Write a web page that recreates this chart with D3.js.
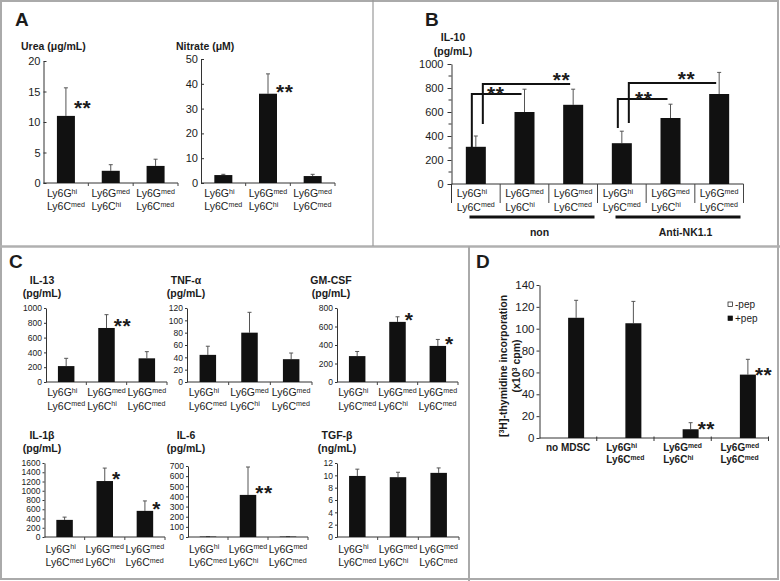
<!DOCTYPE html>
<html>
<head>
<meta charset="utf-8">
<script src="https://cdn.jsdelivr.net/npm/d3@7"></script>
<style>
body { margin: 0; background: #fff; }
svg { display: block; }
</style>
</head>
<body>
<svg id="fig" width="780" height="581"></svg>
<script>
// ---------- data ----------
var subsets = [[["Ly6G", "hi"], ["Ly6C", "med"]],
               [["Ly6G", "med"], ["Ly6C", "hi"]],
               [["Ly6G", "med"], ["Ly6C", "med"]]];

var ureaMean = [11, 2, 2.8],        ureaSD = [4.6, 1.0, 1.1],       ureaStars = ["**", "", ""];
var nitrateMean = [3.2, 36, 2.8],   nitrateSD = [0.3, 8, 0.7],      nitrateStars = ["", "**", ""];

var il10Groups = ["non", "Anti-NK1.1"];
var il10Mean = [310, 600, 660, 340, 550, 750];
var il10SD = [90, 190, 130, 100, 115, 180];
// [from bar, to bar, bracket level, drop-to level, star position along bracket]
var il10Brackets = [[0, 1, 750, 308, 0.48], [0, 2, 833, 500, 0.9],
                    [3, 4, 708, 467, 0.52], [3, 5, 842, 508, 0.66]];

var il13Mean = [215, 730, 320],   il13SD = [105, 180, 90],    il13Stars = ["", "**", ""];
var tnfMean = [44, 80, 37],       tnfSD = [14, 33, 10],       tnfStars = ["", "", ""];
var gmcsfMean = [280, 650, 390],  gmcsfSD = [50, 55, 70],     gmcsfStars = ["", "*", "*"];
var il1bMean = [370, 1210, 565],  il1bSD = [60, 280, 215],    il1bStars = ["", "*", "*"];
var il6Mean = [4, 415, 4],        il6SD = [0, 275, 0],        il6Stars = ["", "**", ""];
var tgfbMean = [9.9, 9.7, 10.4],  tgfbSD = [1.1, 0.8, 0.8],   tgfbStars = ["", "", ""];

var dCats = [[["no MDSC", ""]]].concat(subsets);
var dSeries = ["-pep", "+pep"];
var dMinus = [0, 0, 0, 0];
var dPlus = [110, 105, 8, 58];
var dPlusSD = [16, 20, 6, 14];
var dStars = ["", "", "**", "**"];

// ---------- drawing ----------
var svg = d3.select("#fig");
var INK = "#1b1b1b";
var FONT = '"Liberation Sans", Arial, sans-serif';
var NARROW = '"Liberation Sans Narrow", "Arial Narrow", "Liberation Sans", Arial, sans-serif';
var STAR = 21;

function txt(x, y, s, size, weight, anchor) {
    return svg.append("text")
        .attr("x", x).attr("y", y)
        .attr("font-family", FONT)
        .attr("font-size", size)
        .attr("font-weight", weight || "normal")
        .attr("text-anchor", anchor || "start")
        .attr("fill", INK)
        .text(s);
}

function catLabel(g, cx, y, lines, size, weight, gap) {
    var lg = g.append("g");
    lines.forEach(function(ln, j) {
        var t = lg.append("text")
            .attr("x", 0).attr("y", y + j * gap)
            .attr("font-family", FONT)
            .attr("font-size", size)
            .attr("font-weight", weight)
            .attr("fill", INK);
        t.append("tspan").text(ln[0]);
        if (ln[1]) t.append("tspan").attr("dy", -3.5).attr("font-size", "0.68em").text(ln[1]);
    });
    var w = lg.node().getBBox().width;
    lg.attr("transform", "translate(" + (cx - w / 2) + ",0)");
}

function stars(g, x, yc, s, anchor) {
    if (!s) return;
    g.append("text")
        .attr("x", x).attr("y", yc + 0.57 * STAR)
        .attr("text-anchor", anchor || "start")
        .attr("font-family", FONT)
        .attr("font-size", STAR)
        .attr("font-weight", "bold")
        .attr("letter-spacing", 0.5)
        .attr("fill", INK)
        .text(s);
}

function barChart(o) {
    var n = o.mean.length;
    var g = svg.append("g");
    var y = d3.scaleLinear().domain([0, o.max]).range([o.y0, o.y1]);
    var step = (o.x1 - o.x0) / n;
    var pad = 1 - o.barW / step;
    var x = d3.scaleBand().domain(d3.range(n)).range([o.x0, o.x1])
        .paddingInner(pad).paddingOuter(pad / 2);

    // y axis
    var ax = g.append("g")
        .attr("transform", "translate(" + o.x0 + ",0)")
        .call(d3.axisLeft(y).tickValues(o.ticks).tickFormat(d3.format("d"))
            .tickSizeInner(o.tickLen).tickSizeOuter(0).tickPadding(o.tickPad));
    ax.attr("font-family", o.tickFont || NARROW).attr("font-size", o.tickSize);
    ax.select(".domain").attr("stroke", "#333");
    ax.selectAll(".tick line").attr("stroke", "#333");
    ax.selectAll(".tick text").attr("fill", INK);
    if (o.minor) {
        g.selectAll(".minor").data(o.minor).enter().append("line")
            .attr("x1", o.x0 - 3).attr("x2", o.x0)
            .attr("y1", function(d) { return y(d); }).attr("y2", function(d) { return y(d); })
            .attr("stroke", "#333");
    }
    if (o.yExtend) {
        g.append("line").attr("x1", o.x0).attr("x2", o.x0)
            .attr("y1", o.y0).attr("y2", o.y0 + o.yExtend).attr("stroke", "#333");
    }

    // x axis
    g.append("line").attr("x1", o.x0).attr("x2", o.x1)
        .attr("y1", o.y0).attr("y2", o.y0).attr("stroke", "#333");
    g.selectAll(".xt").data(d3.range(1, n + 1)).enter().append("line")
        .attr("x1", function(i) { return o.x0 + i * step; })
        .attr("x2", function(i) { return o.x0 + i * step; })
        .attr("y1", o.y0).attr("y2", o.y0 + (o.xTickLen || 3))
        .attr("stroke", "#444");

    // error bars
    g.selectAll(".err").data(o.mean).enter().append("line")
        .attr("x1", function(d, i) { return x(i) + x.bandwidth() / 2; })
        .attr("x2", function(d, i) { return x(i) + x.bandwidth() / 2; })
        .attr("y1", function(d) { return y(d); })
        .attr("y2", function(d, i) { return y(d + o.sd[i]); })
        .attr("stroke", "#555").attr("stroke-width", 1);
    g.selectAll(".cap").data(o.mean).enter().append("line")
        .attr("x1", function(d, i) { return x(i) + x.bandwidth() / 2 - 2; })
        .attr("x2", function(d, i) { return x(i) + x.bandwidth() / 2 + 2; })
        .attr("y1", function(d, i) { return y(d + o.sd[i]); })
        .attr("y2", function(d, i) { return y(d + o.sd[i]); })
        .attr("stroke", "#555").attr("stroke-width", 1);

    // bars
    g.selectAll(".bar").data(o.mean).enter().append("rect")
        .attr("x", function(d, i) { return x(i); })
        .attr("y", function(d) { return y(d); })
        .attr("width", x.bandwidth())
        .attr("height", function(d) { return y(0) - y(d); })
        .attr("fill", "#111");

    // significance
    if (o.stars) {
        o.stars.forEach(function(s, i) {
            stars(g, x(i) + x.bandwidth() - 1, y(o.mean[i]) - (o.starLift || 7), s);
        });
    }

    // category labels
    var cats = o.cats || d3.range(n).map(function(i) { return subsets[i % 3]; });
    cats.forEach(function(c, i) {
        catLabel(g, x(i) + x.bandwidth() / 2, o.y0 + (o.labDy || 14), c, 10.5, "normal", o.labGap || 13);
    });

    // title
    if (o.title) {
        o.title.forEach(function(t, j) {
            txt(o.titleX, o.titleY + j * (o.titleGap || 12.5), t, 10.5, "bold", o.titleAnchor || "middle");
        });
    }
    return { x: x, y: y, g: g, step: step };
}

// frame
svg.append("rect").attr("x", 1).attr("y", 1).attr("width", 777).attr("height", 578)
    .attr("fill", "none").attr("stroke", "#aaa").attr("stroke-width", 2);
svg.append("line").attr("x1", 0).attr("x2", 780).attr("y1", 246.5).attr("y2", 246.5)
    .attr("stroke", "#b0b0b0").attr("stroke-width", 2.5);
svg.append("line").attr("x1", 373).attr("x2", 373).attr("y1", 0).attr("y2", 246)
    .attr("stroke", "#999").attr("stroke-width", 1.2);
svg.append("line").attr("x1", 469).attr("x2", 469).attr("y1", 246).attr("y2", 581)
    .attr("stroke", "#aaa").attr("stroke-width", 2);

// panel letters
txt(15, 26, "A", 19, "bold");
txt(425, 26, "B", 19, "bold");
txt(9, 268, "C", 19, "bold");
txt(476, 268, "D", 19, "bold");

// ---- A ----
barChart({ mean: ureaMean, sd: ureaSD, stars: ureaStars, starLift: 13,
    max: 20, ticks: [0, 5, 10, 15, 20], x0: 43.5, x1: 178, y0: 183, y1: 61, barW: 18,
    tickLen: -3, tickPad: 3, tickSize: 11, tickFont: FONT, labDy: 14, labGap: 13,
    title: ["Urea (\u03bcg/mL)"], titleX: 21, titleY: 50, titleAnchor: "start" });
barChart({ mean: nitrateMean, sd: nitrateSD, stars: nitrateStars,
    max: 50, ticks: [0, 10, 20, 30, 40, 50], x0: 201, x1: 335, y0: 183, y1: 59, barW: 18,
    tickLen: -3, tickPad: 3, tickSize: 11, tickFont: FONT, labDy: 14, labGap: 13,
    title: ["Nitrate (\u03bcM)"], titleX: 176, titleY: 50, titleAnchor: "start" });

// ---- B ----
var b = barChart({ mean: il10Mean, sd: il10SD,
    max: 1000, ticks: [0, 200, 400, 600, 800, 1000], minor: [100, 300, 500, 700, 900],
    x0: 451.5, x1: 743.5, y0: 184, y1: 64, barW: 20,
    tickLen: 4, tickPad: 4, tickSize: 11, yExtend: 19, xTickLen: 19, labDy: 13, labGap: 13.5,
    title: ["IL-10", "(pg/mL)"], titleX: 453, titleY: 41, titleGap: 14 });
il10Groups.forEach(function(name, k) {
    var gs = 451.5 + k * 3 * b.step, ge = gs + 3 * b.step;
    b.g.append("line").attr("x1", gs + 18).attr("x2", ge - 3)
        .attr("y1", 217).attr("y2", 217).attr("stroke", "#111").attr("stroke-width", 3);
    txt((gs + ge) / 2 + 15, 236, name, 10.5, "bold", "middle");
});
il10Brackets.forEach(function(br, k) {
    var rank = k % 2;
    var xs = b.x(br[0]) + b.x.bandwidth() / 2 + (rank ? 7 : -4);
    var xe = b.x(br[1]) + b.x.bandwidth() / 2 - 3;
    var yl = b.y(br[2]);
    b.g.append("path")
        .attr("d", "M" + xs + "," + b.y(br[3]) + "V" + yl + "H" + xe)
        .attr("fill", "none").attr("stroke", "#111").attr("stroke-width", 2);
    stars(b.g, xs + (xe - xs) * br[4], yl - (rank ? 9 : 5), "**", "middle");
});

// ---- C ----
var cTop = { y0: 382, y1: 308, barW: 16.5, tickLen: 2, tickPad: 2, tickSize: 8.5,
             labDy: 14, labGap: 13.5, titleY: 284, titleGap: 12.5 };
var cBot = { y0: 537, y1: 463, barW: 16.5, tickLen: 2, tickPad: 2, tickSize: 8.5,
             labDy: 15.5, labGap: 13.5, titleY: 439, titleGap: 12.5 };
function cChart(base, extra) { barChart(Object.assign({}, base, extra)); }

cChart(cTop, { mean: il13Mean, sd: il13SD, stars: il13Stars, max: 1000,
    ticks: d3.range(0, 1001, 200), x0: 46, x1: 167, title: ["IL-13", "(pg/mL)"], titleX: 42 });
cChart(cTop, { mean: tnfMean, sd: tnfSD, stars: tnfStars, max: 120,
    ticks: d3.range(0, 121, 20), x0: 187, x1: 312, title: ["TNF-\u03b1", "(pg/mL)"], titleX: 186 });
cChart(cTop, { mean: gmcsfMean, sd: gmcsfSD, stars: gmcsfStars, max: 800,
    ticks: d3.range(0, 801, 200), x0: 337, x1: 458, title: ["GM-CSF", "(pg/mL)"], titleX: 331 });
cChart(cBot, { mean: il1bMean, sd: il1bSD, stars: il1bStars, max: 1600,
    ticks: d3.range(0, 1601, 200), x0: 44.5, x1: 165, title: ["IL-1\u03b2", "(pg/mL)"], titleX: 42 });
cChart(cBot, { mean: il6Mean, sd: il6SD, stars: il6Stars, max: 700, y1: 466,
    ticks: d3.range(0, 701, 100), x0: 188, x1: 308, title: ["IL-6", "(pg/mL)"], titleX: 186 });
cChart(cBot, { mean: tgfbMean, sd: tgfbSD, stars: tgfbStars, max: 12,
    ticks: d3.range(0, 13, 2), x0: 337, x1: 459, title: ["TGF-\u03b2", "(ng/mL)"], titleX: 337 });

// ---- D ----
(function() {
    var g = svg.append("g");
    var x0 = 539.5, x1 = 768.5, y0 = 438;
    var y = d3.scaleLinear().domain([0, 140]).range([y0, 285]);
    var step = (x1 - x0) / dCats.length;
    var pad = 1 - 32 / step;
    var x = d3.scaleBand().domain(d3.range(dCats.length)).range([x0, x1])
        .paddingInner(pad).paddingOuter(pad / 2);
    var sub = d3.scaleBand().domain(dSeries).range([0, x.bandwidth()]);

    var ax = g.append("g").attr("transform", "translate(" + x0 + ",0)")
        .call(d3.axisLeft(y).tickValues(d3.range(0, 141, 20))
            .tickSizeInner(3).tickSizeOuter(0).tickPadding(2));
    ax.attr("font-family", NARROW).attr("font-size", 11.5);
    ax.select(".domain").attr("stroke", "#333");
    ax.selectAll(".tick line").attr("stroke", "#333");
    ax.selectAll(".tick text").attr("fill", INK);

    g.append("line").attr("x1", x0).attr("x2", x1).attr("y1", y0).attr("y2", y0).attr("stroke", "#333");
    g.selectAll(".xt").data(d3.range(1, dCats.length + 1)).enter().append("line")
        .attr("x1", function(i) { return x0 + i * step; })
        .attr("x2", function(i) { return x0 + i * step; })
        .attr("y1", y0 - 1.5).attr("y2", y0 + 3).attr("stroke", "#333");

    var cx = function(i) { return x(i) + sub("+pep") + sub.bandwidth() / 2; };
    g.selectAll(".err").data(dPlus).enter().append("line")
        .attr("x1", function(d, i) { return cx(i); }).attr("x2", function(d, i) { return cx(i); })
        .attr("y1", function(d) { return y(d); })
        .attr("y2", function(d, i) { return y(d + dPlusSD[i]); })
        .attr("stroke", "#555");
    g.selectAll(".cap").data(dPlus).enter().append("line")
        .attr("x1", function(d, i) { return cx(i) - 2; }).attr("x2", function(d, i) { return cx(i) + 2; })
        .attr("y1", function(d, i) { return y(d + dPlusSD[i]); })
        .attr("y2", function(d, i) { return y(d + dPlusSD[i]); })
        .attr("stroke", "#555");
    g.selectAll(".minus").data(dMinus).enter().append("rect")
        .attr("x", function(d, i) { return x(i) + sub("-pep"); })
        .attr("y", function(d) { return y(d); })
        .attr("width", sub.bandwidth())
        .attr("height", function(d) { return y(0) - y(d); })
        .attr("fill", "#fff").attr("stroke", "#111").attr("stroke-width", 0.6);
    g.selectAll(".plus").data(dPlus).enter().append("rect")
        .attr("x", function(d, i) { return x(i) + sub("+pep"); })
        .attr("y", function(d) { return y(d); })
        .attr("width", sub.bandwidth())
        .attr("height", function(d) { return y(0) - y(d); })
        .attr("fill", "#111");
    dStars.forEach(function(s, i) {
        stars(g, x(i) + x.bandwidth() - 1, y(dPlus[i]) - 5, s);
    });
    dCats.forEach(function(c, i) {
        catLabel(g, x(i) + x.bandwidth() / 2, y0 + 13, c, 10, "bold", 12);
    });

    // legend
    dSeries.forEach(function(s, k) {
        g.append("rect").attr("x", 728).attr("y", 302 + k * 14).attr("width", 4.5).attr("height", 4.5)
            .attr("fill", k ? "#111" : "#fff").attr("stroke", "#111").attr("stroke-width", 0.7);
        g.append("text").attr("x", 735).attr("y", 308 + k * 14)
            .attr("font-family", FONT).attr("font-size", 10).attr("fill", INK).text(s);
    });

    // rotated axis title
    var t = g.append("text").attr("transform", "translate(507,366) rotate(-90)")
        .attr("text-anchor", "middle").attr("font-family", FONT)
        .attr("font-size", 10.5).attr("font-weight", "bold").attr("fill", INK);
    t.append("tspan").text("[");
    t.append("tspan").attr("dy", -3.5).attr("font-size", "0.68em").text("3");
    t.append("tspan").attr("dy", 3.5).text("H]-thymidine incorporation");
    var t2 = g.append("text").attr("transform", "translate(520,366) rotate(-90)")
        .attr("text-anchor", "middle").attr("font-family", FONT)
        .attr("font-size", 10.5).attr("font-weight", "bold").attr("fill", INK);
    t2.append("tspan").text("(x10");
    t2.append("tspan").attr("dy", -3.5).attr("font-size", "0.68em").text("3");
    t2.append("tspan").attr("dy", 3.5).text(" cpm)");
})();
</script>
</body>
</html>
